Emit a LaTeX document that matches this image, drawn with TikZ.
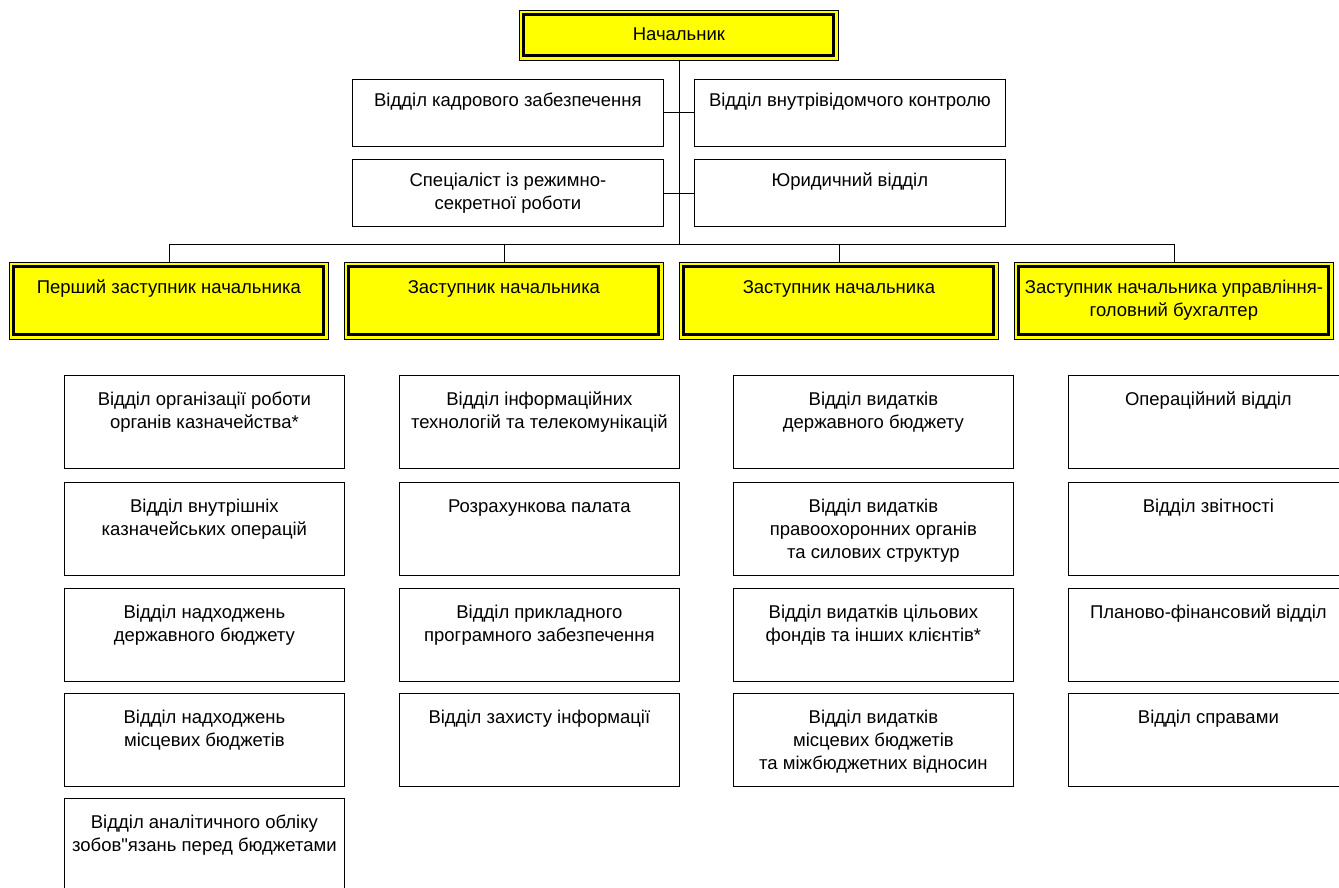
\documentclass[tikz,border=0pt]{standalone}
\usepackage{fontspec}
\setmainfont{Liberation Sans}[Ligatures=TeXOff]
\definecolor{bossyellow}{RGB}{255,255,0}

\begin{document}
\begin{tikzpicture}[x=1pt, y=-1pt, line width=0.8pt,
    every node/.style={font=\fontsize{18.5}{23}\selectfont, inner sep=0pt, anchor=north west},
    cell/.style n args={3}{draw, execute at begin node={\begin{minipage}[c][#2][t]{#1}\centering\vspace*{#3}\strut},
        execute at end node={\end{minipage}}},
    dept/.style={cell={280pt}{93pt}{14pt}, fill=white},
    staff/.style={cell={311pt}{67pt}{11pt}},
    head/.style={cell={319pt}{#1}{14.5pt}, fill=bossyellow,
        path picture={\draw[line width=3pt] ([shift={(4.5pt,-4.5pt)}]path picture bounding box.north west)
            rectangle ([shift={(-4.5pt,4.5pt)}]path picture bounding box.south east);}},
    head/.default=77pt]
    \useasboundingbox (0,0) rectangle (1339,888);

    % top
    \node[head=50pt] (chief) at (519,10) {Начальник};
    \node[staff] (hr) at (352,79) {Відділ кадрового забезпечення};
    \node[staff] (secr) at (352,159) {Спеціаліст із режимно-\\секретної роботи};
    \node[staff] (ctrl) at (694,79) {Відділ внутрівідомчого контролю};
    \node[staff] (law) at (694,159) {Юридичний відділ};

    % deputies
    \node[head] (dep1) at (9,262) {Перший заступник начальника};
    \node[head] (dep2) at (344,262) {Заступник начальника};
    \node[head] (dep3) at (679,262) {Заступник начальника};
    \node[head] (dep4) at (1014,262) {Заступник начальника управління-\\головний бухгалтер};

    \coordinate (bus) at (0,244);
    \draw (chief.south) -- (chief.south |- bus);
    \draw (hr.east) -- (ctrl.west);
    \draw (secr.east) -- (law.west);
    \draw (dep1.north) -- (dep1.north |- bus) -- (dep4.north |- bus) -- (dep4.north);
    \draw (dep2.north) -- (dep2.north |- bus);
    \draw (dep3.north) -- (dep3.north |- bus);

    % first deputy
    \node[dept] (u11) at (64,375) {Відділ організації роботи\\органів казначейства*};
    \node[dept] (u12) at (64,482) {Відділ внутрішніх\\казначейських операцій};
    \node[dept] (u13) at (64,588) {Відділ надходжень\\державного бюджету};
    \node[dept] (u14) at (64,693) {Відділ надходжень\\місцевих бюджетів};
    \node[dept] (u15) at (64,798) {Відділ аналітичного обліку\\зобов"язань перед бюджетами};

    % deputy 2
    \node[dept] (u21) at (399,375) {Відділ інформаційних\\технологій та телекомунікацій};
    \node[dept] (u22) at (399,482) {Розрахункова палата};
    \node[dept] (u23) at (399,588) {Відділ прикладного\\програмного забезпечення};
    \node[dept] (u24) at (399,693) {Відділ захисту інформації};

    % deputy 3
    \node[dept] (u31) at (733,375) {Відділ видатків\\державного бюджету};
    \node[dept] (u32) at (733,482) {Відділ видатків\\правоохоронних органів\\та силових структур};
    \node[dept] (u33) at (733,588) {Відділ видатків цільових\\фондів та інших клієнтів*};
    \node[dept] (u34) at (733,693) {Відділ видатків\\місцевих бюджетів\\та міжбюджетних відносин};

    % chief accountant
    \node[dept] (u41) at (1068,375) {Операційний відділ};
    \node[dept] (u42) at (1068,482) {Відділ звітності};
    \node[dept] (u43) at (1068,588) {Планово-фінансовий відділ};
    \node[dept] (u44) at (1068,693) {Відділ справами};
\end{tikzpicture}
\end{document}
